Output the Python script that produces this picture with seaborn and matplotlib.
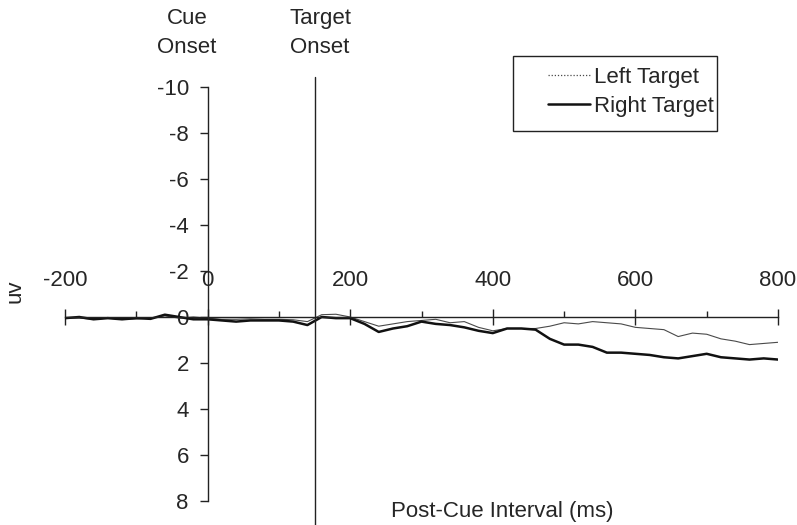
import matplotlib
matplotlib.use('Agg')
import matplotlib.pyplot as plt
import seaborn as sns
import pandas as pd
from matplotlib.lines import Line2D
from matplotlib.patches import Rectangle
from matplotlib.ticker import MultipleLocator

# post-cue time (ms) and ERP amplitude (uV)
time_ms = list(range(-200, 801, 20))
left_target = [0.05, 0.05, 0.10, 0.05, 0.10, 0.08, 0.05, -0.05, 0.05, 0.00,
               0.05, 0.10, 0.10, 0.08, 0.10, 0.10, 0.12, 0.20, -0.10, -0.12,
               0.00, 0.20, 0.40, 0.30, 0.20, 0.15, 0.10, 0.25, 0.20, 0.45,
               0.60, 0.50, 0.50, 0.50, 0.40, 0.25, 0.30, 0.20, 0.25, 0.30,
               0.45, 0.50, 0.55, 0.85, 0.70, 0.75, 0.95, 1.05, 1.20, 1.15, 1.10]
right_target = [0.05, 0.00, 0.10, 0.05, 0.10, 0.05, 0.08, -0.10, 0.00, 0.10,
                0.10, 0.15, 0.20, 0.15, 0.15, 0.15, 0.20, 0.35, 0.00, 0.05,
                0.05, 0.30, 0.65, 0.50, 0.40, 0.20, 0.30, 0.35, 0.45, 0.60,
                0.70, 0.50, 0.50, 0.55, 0.95, 1.20, 1.20, 1.30, 1.55, 1.55,
                1.60, 1.65, 1.75, 1.80, 1.70, 1.60, 1.75, 1.80, 1.85, 1.80, 1.85]
target_onset = 150
x_ticks = [-200, 0, 200, 400, 600, 800]
y_ticks = [-10, -8, -6, -4, -2, 0, 2, 4, 6, 8]

df = pd.DataFrame({'time': time_ms, 'Left Target': left_target, 'Right Target': right_target})

sns.set_style('white')
plt.rcParams['font.family'] = ['Liberation Sans', 'DejaVu Sans']
fs = 16

W, H = 797, 525
fig = plt.figure(figsize=(W / 100, H / 100), dpi=100)
ax = fig.add_axes([65 / W, 1 - 501 / H, 713 / W, 414 / H])

sns.lineplot(data=df, x='time', y='Left Target', ax=ax, color='#4a4a4a', lw=0.8)
sns.lineplot(data=df, x='time', y='Right Target', ax=ax, color='#111111', lw=1.8)

ax.set_xlim(-200, 800)
ax.set_ylim(8, -10)

axis_col = '#222222'
for s in ['right', 'bottom']:
    ax.spines[s].set_visible(False)
ax.spines['left'].set_position(('data', 0))
ax.spines['top'].set_position(('data', 0))
for s in ['left', 'top']:
    ax.spines[s].set_color(axis_col)
    ax.spines[s].set_linewidth(1.0)

ax.xaxis.set_ticks_position('top')
ax.set_xticks(x_ticks)
ax.set_xticklabels([str(v) for v in x_ticks], fontsize=fs)
ax.xaxis.set_minor_locator(MultipleLocator(100))
ax.tick_params(axis='x', which='major', direction='inout', length=11.5, width=1,
               color=axis_col, pad=13)
ax.tick_params(axis='x', which='minor', direction='out', length=4, width=1, color=axis_col)

ax.yaxis.set_ticks_position('left')
ax.set_yticks(y_ticks)
ax.set_yticklabels([str(v) for v in y_ticks], fontsize=fs)
ax.tick_params(axis='y', direction='out', length=5.5, width=1, color=axis_col, pad=8)

ax.set_xlabel('')
ax.set_ylabel('')
ax.grid(False)

# target onset marker
ax.plot([target_onset, target_onset], [-10.43, 9.2], color=axis_col, lw=1.0, clip_on=False)

fig.text(187 / W, 1 - 33 / H, 'Cue\nOnset', ha='center', va='center', fontsize=fs,
         linespacing=1.5)
fig.text(320 / W, 1 - 33 / H, 'Target\nOnset', ha='center', va='center', fontsize=fs,
         linespacing=1.5)
fig.text(502 / W, 1 - 511 / H, 'Post-Cue Interval (ms)', ha='center', va='center', fontsize=fs)
fig.text(15 / W, 1 - 291 / H, 'uv', ha='center', va='center', rotation=90, fontsize=fs)

# legend box (Excel style: entries pushed to the right)
fig.patches.append(Rectangle((513 / W, 1 - 131 / H), 204 / W, 75 / H,
                             transform=fig.transFigure, facecolor='white',
                             edgecolor=axis_col, lw=1.0, zorder=5))
handles = [Line2D([], [], color='#4a4a4a', lw=0.9, ls=(0, (1, 1.5))),
           Line2D([], [], color='#111111', lw=1.8)]
leg = fig.legend(handles, ['Left Target', 'Right Target'], loc='upper left',
                 bbox_to_anchor=(548 / W, 1 - 67 / H), fontsize=fs, frameon=False,
                 handlelength=1.9, handletextpad=0.15, borderpad=0,
                 labelspacing=0.35, borderaxespad=0)
leg.set_zorder(6)

fig.savefig('out.png', dpi=100)
